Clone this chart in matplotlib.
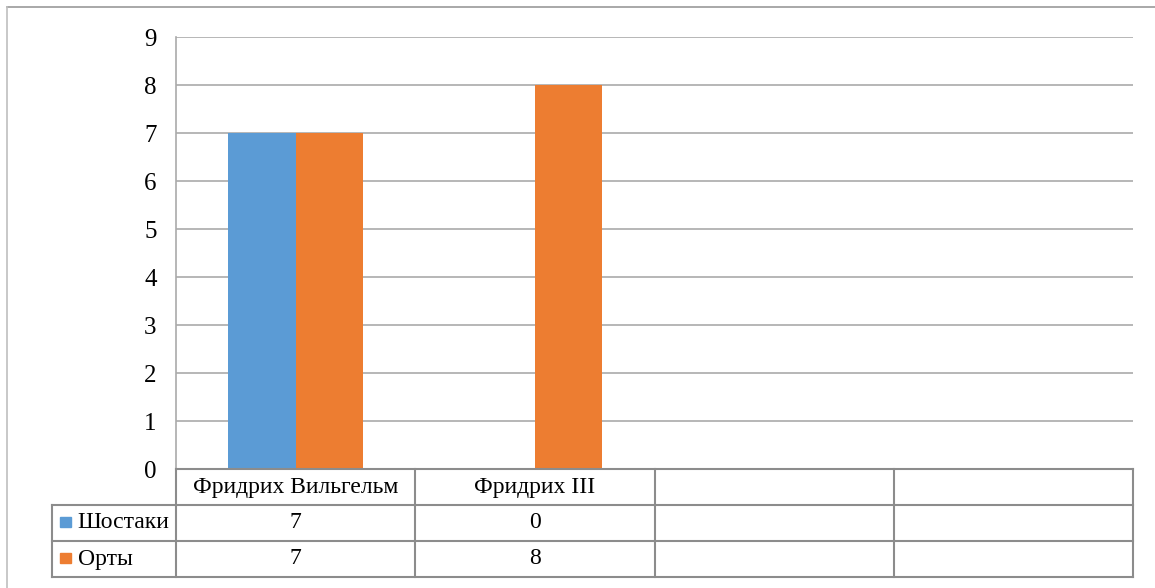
import numpy as np
import matplotlib.pyplot as plt
from matplotlib.patches import Rectangle
from matplotlib.lines import Line2D

plt.rcParams['font.family'] = ['Liberation Serif', 'DejaVu Serif']

# Data
categories = ['Фридрих Вильгельм', 'Фридрих III', '', '']
series_names = ['Шостаки', 'Орты']
shostaki = [7, 0, np.nan, np.nan]
orty = [7, 8, np.nan, np.nan]
colors = ['#5B9BD5', '#ED7D31']

W, H = 1155, 588
fig = plt.figure(figsize=(W / 100, H / 100), dpi=100)

def px(x0, y0, x1, y1):
    # pixel box -> figure fraction [left, bottom, width, height]
    return [x0 / W, 1 - y1 / H, (x1 - x0) / W, (y1 - y0) / H]

# outer frame (only top and left edges visible)
fig.add_artist(Line2D([7 / W, 1], [1 - 7 / H, 1 - 7 / H], color='#9a9a9a', lw=1.2))
fig.add_artist(Line2D([7 / W, 7 / W], [0, 1 - 7 / H], color='#bfbfbf', lw=1.2))

# main chart
ax = fig.add_axes(px(176, 37, 1133, 469))
x = np.arange(len(categories))
bw = 0.282
ax.bar(x - bw / 2, shostaki, bw, color=colors[0], zorder=3)
ax.bar(x + bw / 2, orty, bw, color=colors[1], zorder=3)
ax.set_xlim(-0.5, len(categories) - 0.5)
ax.set_ylim(0, 9)
ax.set_yticks(range(0, 10))
ax.set_xticks([])
ax.grid(axis='y', color='#aaaaaa', lw=1.2, zorder=0)
for s in ['top', 'right', 'bottom']:
    ax.spines[s].set_visible(False)
ax.spines['left'].set_color('#aaaaaa')
ax.spines['left'].set_linewidth(1.2)
ax.tick_params(axis='y', length=0, pad=14, labelsize=18)

# data table below the chart
left_w = 124 / 239
tx = fig.add_axes(px(52, 469, 1133, 577))
tx.set_xlim(-0.5 - left_w, len(categories) - 0.5)
tx.set_ylim(3, 0)
tx.axis('off')
lc = '#8c8c8c'
x_edges = [-0.5 + i for i in range(len(categories) + 1)]
# horizontal lines
tx.plot([-0.5, len(categories) - 0.5], [0, 0], color=lc, lw=1.5, clip_on=False)
for r in [1, 2, 3]:
    tx.plot([-0.5 - left_w, len(categories) - 0.5], [r, r], color=lc, lw=1.5, clip_on=False)
# vertical lines
for xe in x_edges:
    tx.plot([xe, xe], [0, 3], color=lc, lw=1.5, clip_on=False)
tx.plot([-0.5 - left_w, -0.5 - left_w], [1, 3], color=lc, lw=1.5, clip_on=False)

fs = 17
for i, c in enumerate(categories):
    tx.text(i, 0.52, c, ha='center', va='center', fontsize=fs)
for r, (name, vals) in enumerate(zip(series_names, [shostaki, orty]), start=1):
    tx.add_patch(Rectangle((-0.5 - left_w + 0.034, r + 0.32), 0.046, 0.28,
                           color=colors[r - 1], clip_on=False))
    tx.text(-0.5 - left_w + 0.107, r + 0.5, name, ha='left', va='center', fontsize=fs)
    for i, v in enumerate(vals):
        if not np.isnan(v):
            tx.text(i, r + 0.5, f'{v:g}', ha='center', va='center', fontsize=fs)

fig.savefig('out.png', dpi=100)
